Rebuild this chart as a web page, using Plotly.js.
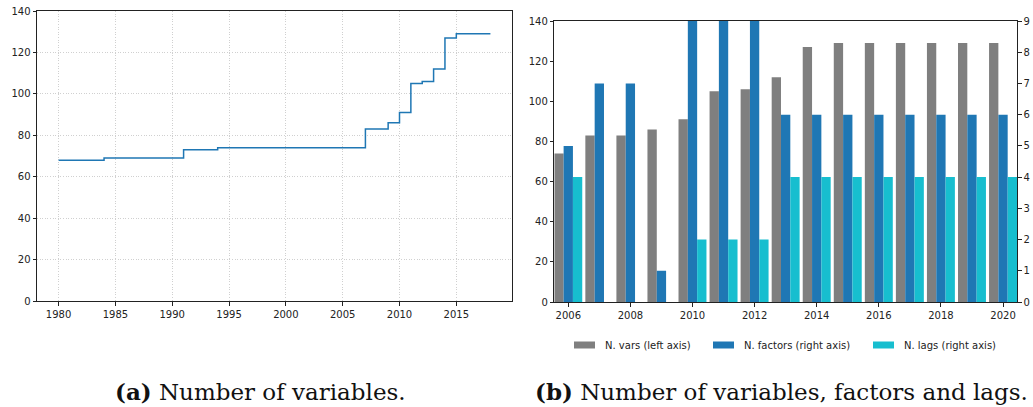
<!DOCTYPE html>
<html>
<head>
<meta charset="utf-8">
<script src="https://cdn.plot.ly/plotly-3.0.1.min.js"></script>
<style>html,body{margin:0;padding:0;background:#fff}#chart{width:1033px;height:407px}</style>
</head>
<body>
<div id="chart"></div>
<script>
// ---- Data: panel (a) ----
const yearsA = [1980,1981,1982,1983,1984,1985,1986,1987,1988,1989,1990,1991,1992,1993,1994,1995,1996,1997,1998,1999,2000,2001,2002,2003,2004,2005,2006,2007,2008,2009,2010,2011,2012,2013,2014,2015,2016,2017,2018];
const nVarsA = [68,68,68,68,69,69,69,69,69,69,69,73,73,73,74,74,74,74,74,74,74,74,74,74,74,74,74,83,83,86,91,105,106,112,127,129,129,129,129];
const xTicksA = [1980,1985,1990,1995,2000,2005,2010,2015];

// ---- Data: panel (b) ----
const yearsB = [2006,2007,2008,2009,2010,2011,2012,2013,2014,2015,2016,2017,2018,2019,2020];
const nVarsB = [74,83,83,86,91,105,106,112,127,129,129,129,129,129,129];
const nFactors = [5,7,7,1,9,9,9,6,6,6,6,6,6,6,6];
const nLags = [4,0,0,0,2,2,2,4,4,4,4,4,4,4,4];
const seriesNames = ['N. vars (left axis)','N. factors (right axis)','N. lags (right axis)'];
const captions = ['<b>(a)</b> Number of variables.', '<b>(b)</b> Number of variables, factors and lags.'];

const colors = ['#7f7f7f','#1f77b4','#17becf'];
const W = 1033, H = 407;
const px = v => v / W, py = v => 1 - v / H;
const tickFont = {family: 'DejaVu Sans', size: 10, color: '#222'};

const traces = [
  {x: yearsA, y: nVarsA, type: 'scatter', mode: 'lines', line: {shape: 'hv', color: '#1f77b4', width: 1.5}, xaxis: 'x', yaxis: 'y', showlegend: false, hoverinfo: 'x+y'},
  {x: yearsB, y: nVarsB, type: 'bar', name: seriesNames[0], marker: {color: colors[0]}, width: 0.3, offset: -0.45, xaxis: 'x2', yaxis: 'y2', showlegend: false},
  {x: yearsB, y: nFactors, type: 'bar', name: seriesNames[1], marker: {color: colors[1]}, width: 0.3, offset: -0.15, xaxis: 'x2', yaxis: 'y3', showlegend: false},
  {x: yearsB, y: nLags, type: 'bar', name: seriesNames[2], marker: {color: colors[2]}, width: 0.3, offset: 0.15, xaxis: 'x2', yaxis: 'y3', showlegend: false}
];

const axCommon = {ticks: 'outside', ticklen: 3.5, tickwidth: 1, tickcolor: '#222', showline: true, linecolor: '#222', linewidth: 1, zeroline: false, tickfont: tickFont, fixedrange: true};
const gridStyle = {showgrid: true, gridcolor: '#c4c4c4', griddash: '1px,1.6px', gridwidth: 0.8};

const shapes = [], annotations = [];
const legendX = [574, 713, 873];
seriesNames.forEach((n, i) => {
  shapes.push({type: 'rect', xref: 'paper', yref: 'paper', x0: px(legendX[i]), x1: px(legendX[i] + 21), y0: py(348.5), y1: py(341.5), fillcolor: colors[i], line: {width: 0}});
  annotations.push({xref: 'paper', yref: 'paper', x: px(legendX[i] + 29), y: py(345), xanchor: 'left', yanchor: 'middle', text: n, showarrow: false, font: {family: 'DejaVu Sans', size: 10, color: '#222'}});
});
annotations.push({xref: 'paper', yref: 'paper', x: px(260), y: py(391), xanchor: 'center', yanchor: 'middle', text: captions[0], showarrow: false, font: {family: 'DejaVu Serif', size: 23, color: '#111'}});
annotations.push({xref: 'paper', yref: 'paper', x: px(781), y: py(391), xanchor: 'center', yanchor: 'middle', text: captions[1], showarrow: false, font: {family: 'DejaVu Serif', size: 23, color: '#111'}});

const layout = {
  width: W, height: H,
  margin: {l: 0, r: 0, t: 0, b: 0},
  paper_bgcolor: '#fff', plot_bgcolor: '#fff',
  barmode: 'overlay',
  showlegend: false,
  xaxis: Object.assign({}, axCommon, gridStyle, {domain: [px(37), px(512)], range: [1978.1, 2019.9], tickvals: xTicksA, mirror: true, anchor: 'y'}),
  yaxis: Object.assign({}, axCommon, gridStyle, {domain: [py(301), py(11)], range: [0, 140], dtick: 20, mirror: true, anchor: 'x'}),
  xaxis2: Object.assign({}, axCommon, {domain: [px(554.3), px(1017)], range: [2005.55, 2020.45], tick0: 2006, dtick: 2, mirror: true, showgrid: false, anchor: 'y2'}),
  yaxis2: Object.assign({}, axCommon, {domain: [py(302), py(21)], range: [0, 140], dtick: 20, showgrid: false, anchor: 'x2'}),
  yaxis3: Object.assign({}, axCommon, {range: [0, 9], dtick: 1, showgrid: false, overlaying: 'y2', side: 'right', anchor: 'x2'}),
  shapes: shapes,
  annotations: annotations
};

Plotly.newPlot('chart', traces, layout, {displayModeBar: false, staticPlot: true});
</script>
</body>
</html>
